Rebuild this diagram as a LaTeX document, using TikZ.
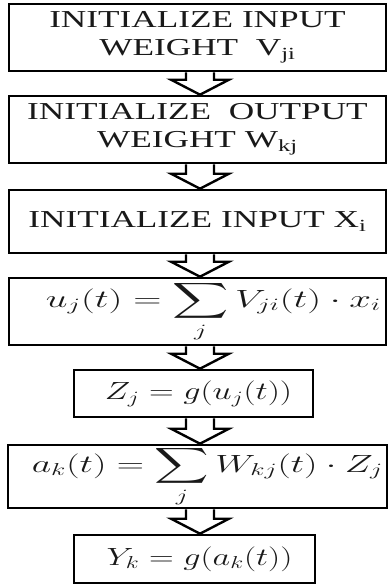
\documentclass[tikz,border=0pt]{standalone}
\usepackage{fontspec}
\setmainfont{Liberation Serif}
\usepackage{amsmath}
\usetikzlibrary{calc}
\newcommand\wtxt[1]{\scalebox{1.45}[1]{#1}}
\newcommand\wsmall[1]{\scalebox{1.65}[1.2]{#1}}
\tikzset{
  boxbase/.style={draw=black, line width=2.6pt, fill=white, inner sep=0pt, text=black!90},
  flowbox/.style={boxbase, align=center, font=\fontsize{24.3}{28}\selectfont},
  mathbox/.style={boxbase, font=\fontsize{22}{26}\selectfont},
  blockarr/.style={draw=black, line width=2.4pt, fill=white, line join=miter}
}
\newcommand\blockarrow[2]{%
  \draw[blockarr] let \p1=(#1.south), \p2=(#2.north) in
    (186pt,\y1) -- (186pt,\y2+15pt) -- (171pt,\y2+15pt) -- (200pt,\y2)
    -- (229pt,\y2+15pt) -- (214pt,\y2+15pt) -- (214pt,\y1);}
\begin{document}
\begin{tikzpicture}
\useasboundingbox (0,0) rectangle (388pt,-586pt);
\node[flowbox, minimum width=377pt, minimum height=67pt] (b1) at (197.5pt,-37.5pt)
  {\wtxt{INITIALIZE INPUT}\\\wtxt{WEIGHT\ \ V\textsubscript{ji}}};
\node[flowbox, minimum width=377pt, minimum height=67pt] (b2) at (197.5pt,-129.5pt)
  {\wtxt{INITIALIZE\ \ OUTPUT}\\\wtxt{WEIGHT W\textsubscript{kj}}};
\node[flowbox, minimum width=377pt, minimum height=63pt] (b3) at (197.5pt,-221.5pt)
  {\wtxt{INITIALIZE INPUT X\textsubscript{i}}};
\node[mathbox, minimum width=377pt, minimum height=67pt] (b4) at (197.5pt,-311.5pt)
  {\hspace*{32pt}\scalebox{1.88}[1.2]{$\displaystyle u_j(t) = \sum_j V_{ji}(t)\cdot x_i$}};
\node[mathbox, minimum width=239pt, minimum height=47pt] (b5) at (193.5pt,-393.5pt)
  {\hspace*{10pt}\wsmall{$Z_j = g(u_j(t))$}};
\node[mathbox, minimum width=379pt, minimum height=63pt] (b6) at (197.5pt,-476.5pt)
  {\hspace*{20pt}\scalebox{1.82}[1.2]{$\displaystyle a_k(t) = \sum_j W_{kj}(t)\cdot Z_j$}};
\node[mathbox, minimum width=241pt, minimum height=48pt] (b7) at (194.5pt,-559pt)
  {\hspace*{10pt}\wsmall{$Y_k = g(a_k(t))$}};
\blockarrow{b1}{b2}
\blockarrow{b2}{b3}
\blockarrow{b3}{b4}
\blockarrow{b4}{b5}
\blockarrow{b5}{b6}
\blockarrow{b6}{b7}
\end{tikzpicture}
\end{document}
